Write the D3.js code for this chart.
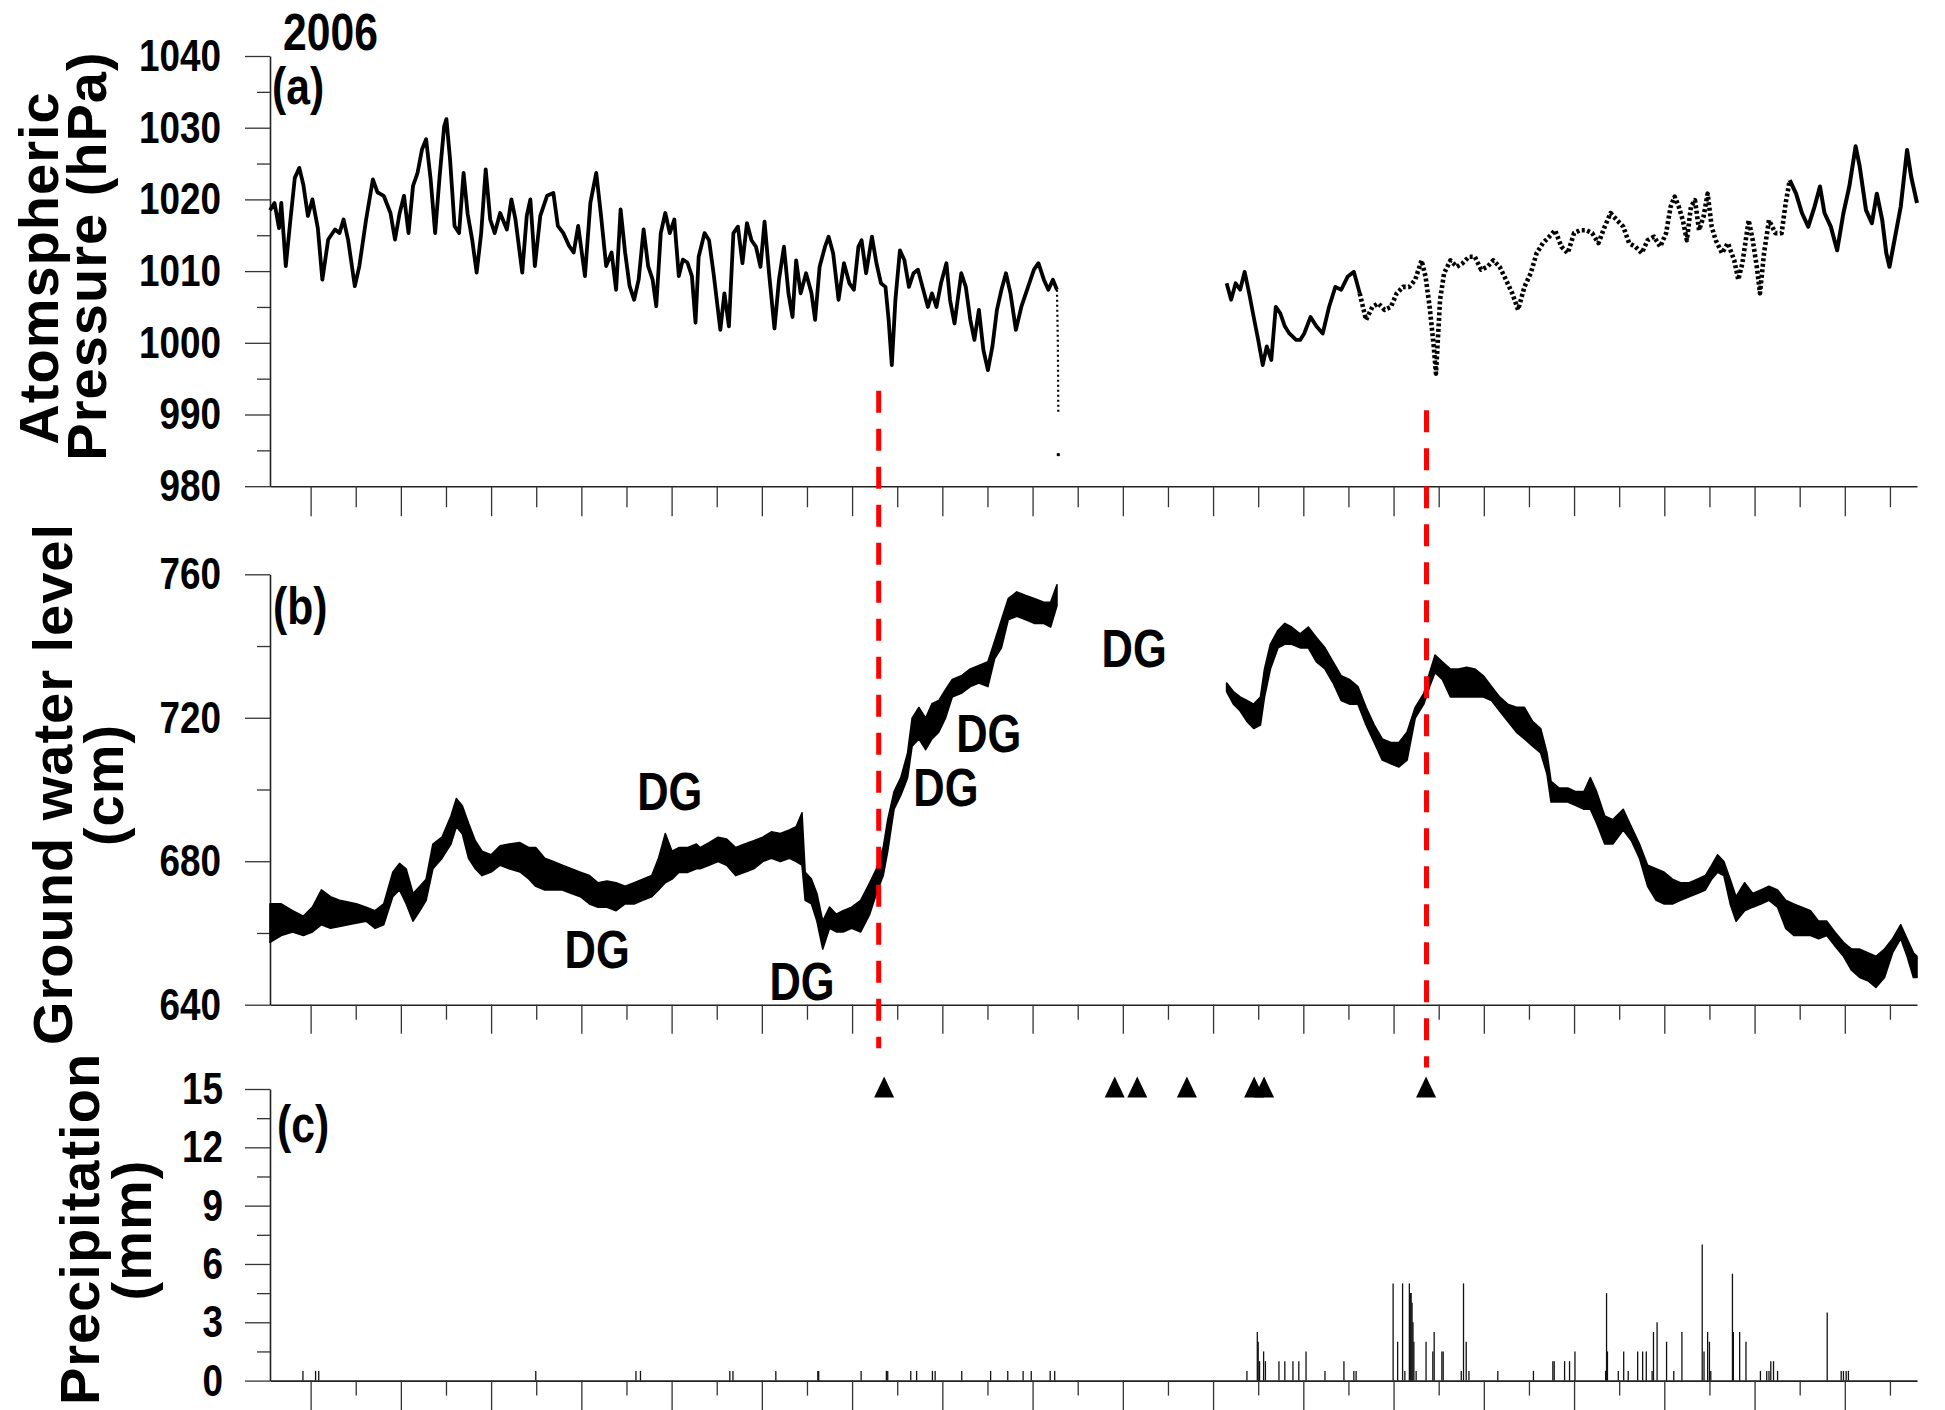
<!DOCTYPE html>
<html><head><meta charset="utf-8">
<script src="https://cdn.jsdelivr.net/npm/d3@7"></script>
<style>
html,body{margin:0;padding:0;background:#fff;}
svg{display:block;}
</style></head>
<body>
<svg id="chart" width="1945" height="1410"></svg>
<script>
// ---------------- DATA ----------------
const dayDomain = [1, 366];                 // day of year 2006
const xTickDays = d3.range(10, 361, 10);    // tick every 10 days
const pressureTicks = [980, 990, 1000, 1010, 1020, 1030, 1040];
const pressureMinor = [985, 995, 1005, 1015, 1025, 1035];
const gwTicks = [640, 680, 720, 760];
const gwMinor = [660, 700, 740];
const precipTicks = [0, 3, 6, 9, 12, 15];
const precipMinor = [1.5, 4.5, 7.5, 10.5, 13.5];

// Atmospheric pressure (hPa), [day, value], first segment
const pressureJanJun = [
[1.0,1018.5],[2.0,1019.5],[3.0,1016],[3.5,1019.5],[4.5,1010.7],[5.5,1017],[6.5,1023],[7.5,1024.4],[8.4,1022],[9.4,1017.7],
[10.4,1020],[11.6,1016],[12.6,1008.8],[13.9,1014.4],[15.4,1015.8],[16.4,1015.3],[17.3,1017.2],[18.3,1014.4],[19.8,1007.9],[20.8,1010.7],
[22.3,1017.2],[23.8,1022.8],[24.8,1021],[26.2,1020.5],[27.7,1018.1],[28.7,1014.4],[29.7,1018],[30.7,1020.5],[31.7,1015.3],[32.7,1021.9],
[33.7,1023.7],[34.7,1027],[35.6,1028.4],[36.6,1022.8],[37.6,1015.3],[38.6,1023.3],[39.6,1030.2],[40.1,1031.2],[40.9,1025.6],[41.9,1016.3],
[42.9,1015.3],[43.9,1023.7],[44.8,1018],[45.8,1014.4],[46.8,1009.8],[47.8,1015.3],[48.8,1024.2],[49.8,1017.2],[50.8,1015.3],[52.0,1018.1],
[53.5,1015.8],[54.5,1020],[55.4,1017.2],[56.9,1009.8],[57.9,1017.7],[58.7,1020],[59.7,1010.7],[60.9,1017.7],[62.4,1020.5],[63.8,1020.9],
[64.8,1016.3],[66.0,1015.3],[67.3,1013.5],[68.3,1012.6],[69.3,1016.3],[70.8,1009.3],[72.0,1019.5],[73.3,1023.7],[74.3,1018.1],[75.5,1010.7],
[76.7,1012.6],[77.7,1007.4],[78.7,1018.6],[79.7,1012.6],[80.7,1007.9],[81.7,1006],[82.7,1008.8],[83.8,1015.8],[84.8,1010.7],[85.8,1008.8],
[86.6,1005.1],[87.6,1015.3],[88.6,1018.1],[89.6,1015.3],[90.6,1017.2],[91.6,1009.3],[92.5,1011.6],[93.5,1011.2],[94.5,1009.3],[95.3,1002.8],
[96.0,1012],[97.3,1015.3],[98.3,1014.3],[99.3,1009.7],[100.8,1001.8],[101.7,1006.9],[102.7,1002.3],[103.7,1015.3],[104.7,1016.2],[105.7,1011.1],
[106.7,1016.7],[107.7,1014.3],[108.7,1013.4],[109.7,1010.6],[110.6,1016.9],[111.6,1009.7],[112.8,1002],[113.8,1008.8],[114.9,1013.4],[115.9,1006.9],
[116.8,1003.6],[117.6,1011.5],[118.6,1006.9],[119.8,1009.7],[121.0,1006.9],[121.8,1003.2],[122.8,1010.6],[124.0,1013.4],[124.8,1014.8],[125.8,1012.5],
[127.0,1006],[128.2,1011.1],[129.4,1008.3],[130.4,1007.4],[131.4,1013.4],[132.1,1014.3],[133.1,1009.7],[134.4,1014.8],[135.4,1011.1],[136.4,1008.3],
[137.4,1007.8],[138.1,1003.2],[138.8,996.9],[139.6,1006],[140.6,1012.9],[141.6,1011.5],[142.6,1007.8],[143.6,1009.7],[144.6,1010.2],[145.6,1007.8],
[146.8,1005],[147.7,1006.9],[148.7,1005],[149.7,1008.3],[150.9,1011.1],[151.7,1006],[152.7,1002.7],[154.2,1009.7],[155.2,1007.8],[156.2,1003.2],
[157.1,1000.4],[158.1,1004.6],[159.1,999],[160.1,996.2],[161.1,999.5],[162.1,1004.6],[163.1,1007.4],[164.1,1009.7],[165.1,1006.9],[166.3,1001.8],
[167.5,1005],[169.0,1007.8],[170.3,1010.2],[171.3,1011.1],[172.5,1008.8],[173.5,1007.4],[174.5,1008.8],[175.4,1007.4]
];
// sparse readings where the logger dropped out
const pressureDrop = [[175.4,1007.4],[175.6,1000],[175.7,990.2]];
const pressureOutlier = [[175.7,984.4]];

// Atmospheric pressure, second segment
const pressureAugDec = [
[213.0,1008.3],[214.0,1006],[215.0,1008.3],[216.0,1007.4],[217.0,1009.9],[218.0,1006.9],[219.0,1003.6],[220.0,1000.4],[221.0,996.9],[221.9,999.5],
[222.9,997.6],[223.9,1005],[224.9,1004.1],[225.9,1002.3],[226.9,1001.3],[228.4,1000.4],[229.3,1000.4],[230.2,1001.3],[231.6,1003.6],[232.9,1002.3],
[234.3,1001.3],[235.7,1005],[237.1,1007.8],[238.4,1007.4],[239.8,1009.2],[241.2,1009.9],[242.5,1006.9],[243.9,1003.2],[245.3,1005],[246.6,1005.5],
[248.0,1004.6],[249.4,1005],[250.7,1006.9],[252.1,1007.8],[253.5,1007.8],[254.8,1008.8],[256.2,1011.5],[257.1,1009.2],[258.0,1005],[258.9,999.5],
[259.4,995.7],[260.3,1006],[261.2,1009.7],[262.6,1011.5],[264.0,1010.6],[265.3,1011.1],[266.7,1012],[268.0,1012],[269.4,1010.2],[270.8,1010.6],
[272.1,1011.5],[273.5,1010.6],[274.9,1008.8],[276.3,1006.9],[277.6,1004.6],[279.0,1007.8],[280.4,1009.7],[281.7,1012.5],[283.1,1013.9],[284.5,1014.8],
[285.8,1015.7],[287.2,1013.4],[288.6,1012.5],[290.0,1015.3],[291.3,1015.7],[292.7,1015.7],[294.0,1015.3],[295.4,1013.9],[296.8,1016.2],[298.1,1018.1],
[299.5,1017.1],[300.9,1016.2],[302.2,1013.9],[303.6,1013.4],[305.0,1012.5],[306.3,1014.3],[307.7,1014.8],[309.1,1013.4],[310.4,1015.3],[311.4,1019],
[312.3,1020.4],[313.2,1019],[314.1,1017.1],[315.0,1014.3],[315.9,1019],[316.8,1019.9],[317.7,1015.7],[318.7,1017.6],[319.6,1020.8],[320.5,1016.2],
[321.4,1014.3],[322.8,1012.5],[324.1,1013.9],[325.5,1011.5],[326.4,1008.8],[327.3,1011.1],[328.7,1017.1],[329.6,1014.3],[330.5,1010.6],[331.2,1006.9],
[332.1,1012.5],[333.2,1017.1],[334.6,1015.3],[336.0,1015.3],[336.9,1019.5],[337.8,1022.7],[339.2,1020.8],[340.5,1018.1],[341.9,1016.2],[343.3,1019],
[344.5,1021.8],[345.5,1018.1],[346.9,1016.2],[348.3,1012.9],[349.7,1018.1],[351.0,1021.8],[352.4,1027.4],[353.3,1024.6],[354.7,1018.5],[356.0,1016.7],
[357.1,1020.8],[358.3,1017.1],[359.2,1012.5],[359.9,1010.6],[361.0,1014.3],[362.4,1019],[363.8,1026.9],[364.7,1023.2],[366.0,1019.5]
];
const pressureDottedSpan = [242.5, 337.8];   // sparsely sampled stretch

// Ground water level (cm): [day, upper envelope, lower envelope]
const groundwaterJanJun = [
[1.0,668.1,657.4],[3.5,668.1,659.3],[6.0,666.2,660.3],[8.4,664.7,659.3],[10.4,667.2,660.3],[12.4,672,662.3],[14.4,670.1,661.3],[16.4,669.1,661.8],
[18.3,668.6,662.3],[20.3,668.1,662.8],[22.3,667.2,663.3],[24.3,666.2,661.3],[26.2,668.1,662.3],[28.2,676.9,670.1],[29.7,679.4,672],[31.2,677.8,668.1],
[32.7,671,663.3],[34.2,673,666.2],[35.6,675,669.1],[37.1,684.8,677.9],[39.1,686.7,680.8],[41.1,692.6,684.8],[42.3,697.5,689.6],[43.6,695.5,687.7],
[45.0,690.6,680.8],[46.5,685.7,677.9],[48.0,682.8,676],[50.0,681.8,677],[52.0,684.3,678.9],[54.0,684.8,677.9],[56.4,685.2,677],[58.4,683.8,675],
[59.9,683.8,673],[61.9,680.8,672],[63.8,679.9,672],[65.8,678.9,672],[67.8,677.9,671],[69.8,676.9,670.1],[71.8,676,668.1],[73.7,674,667.2],
[75.7,674.5,667.2],[77.7,674,666.2],[79.7,673,668.1],[81.7,674,668.1],[83.6,675,669.1],[85.6,676,670.1],[87.1,680.8,672],[88.6,687.7,674],
[90.1,682.8,675],[91.6,683.8,676.9],[93.6,683.8,676.9],[95.5,684.8,677.9],[96.3,683.8,677.9],[98.3,685.2,678.9],[100.3,686.7,679.9],[102.2,686.2,678.9],
[104.2,683.8,676],[106.2,684.8,676.9],[108.2,685.7,677.9],[110.2,686.7,679.9],[112.1,688.2,680.8],[114.1,687.7,679.9],[116.1,688.7,680.8],[117.6,689.6,679.9],
[118.9,693.5,678.9],[119.6,676.9,669.1],[121.0,675,668.1],[122.2,671,663.3],[123.5,663.3,655.5],[125.0,667.2,661.3],[126.5,665.2,660.3],[128.0,666.2,660.3],
[129.9,667.2,661.3],[131.9,669.1,660.3],[133.9,674,665.2],[135.4,677.9,671],[136.9,683.8,676],[137.9,691.6,682.8],[139.3,699.4,694.5],[140.8,703.3,698.4],
[142.3,710.2,703.3],[143.3,719.9,712.1],[144.8,722.9,714.1],[146.3,719.9,711.1],[147.7,723.9,714.1],[149.2,724.8,716],[150.7,727.8,719.9],[152.2,730.7,725.8],
[154.2,731.7,726.8],[156.2,733.6,728.7],[158.1,734.6,729.7],[160.1,735.6,728.7],[161.6,741.4,736.5],[163.1,747.3,739.5],[164.6,753.2,747.3],[166.5,755.1,748.3],
[168.5,754.1,747.3],[170.5,753.2,746.3],[172.5,752.2,746.3],[174.0,752.2,745.3],[175.4,757.1,751.2]
];
const groundwaterAugDec = [
[213.0,729.7,727.3],[214.5,727.3,723.8],[216.0,725.8,721.9],[217.5,724.8,719],[219.0,723.8,717],[220.5,725.8,718],[221.4,733.6,725.8],[222.7,740.5,733.6],
[224.4,744.4,739.5],[225.9,746.3,740.5],[227.4,745.3,740.5],[229.3,743.4,739.5],[231.1,745.3,739.5],[232.9,742.4,735.6],[234.8,739.5,733.6],[236.6,735.6,729.7],
[238.4,731.7,724.8],[240.2,730.7,723.8],[242.1,728.7,723.8],[243.9,722.9,718],[245.7,718,713.1],[247.5,714.1,708.2],[249.4,713.1,707.2],[251.2,713.1,706.3],
[253.0,716,708.2],[254.8,722.9,719.9],[256.7,726.8,723.8],[258.0,732.6,728.7],[259.2,737.5,732.6],[260.8,735.6,730.7],[262.6,733.6,725.8],[264.4,733.6,725.8],
[266.2,734.1,725.8],[268.0,733.6,725.8],[269.9,731.7,725.8],[271.7,728.7,724.8],[273.5,725.8,721.9],[275.3,723.8,719],[277.2,722.9,716],[279.0,722.9,714.1],
[280.8,719,712.1],[282.6,717,710.2],[284.0,710.2,704.3],[284.9,702.3,696.5],[286.7,700.4,696.5],[288.6,700.4,696.5],[290.4,699.4,695.5],[292.2,699.4,694.5],
[293.6,703.3,694.5],[295.0,699.4,690.6],[296.8,692.6,684.8],[298.6,691.6,684.8],[300.9,694.5,688.7],[302.7,689.6,685.7],[304.5,684.8,680.8],[306.3,678.9,673],
[308.2,677.9,669.1],[310.0,676.9,668.1],[311.8,675,668.1],[313.6,674,669.1],[315.5,674,670.1],[317.3,675,671],[319.1,676,672],[320.5,678.9,675],
[321.8,681.8,676.9],[323.2,679.9,676],[324.6,675,668.1],[325.9,670.1,663.3],[327.8,674,666.2],[329.6,671,667.2],[331.4,672,668.1],[333.2,673,669.1],
[335.1,672,667.2],[336.9,669.1,661.3],[338.7,668.1,659.3],[340.5,667.2,659.3],[342.4,666.2,659.3],[344.2,663.3,658.4],[346.0,663.3,659.3],[347.8,660.3,656.4],
[349.7,657.4,653.5],[351.5,655.5,649.6],[353.3,655.5,647.6],[355.1,654.5,646.7],[356.9,653.5,644.8],[358.8,655.5,647.6],[360.6,658.4,654.5],[362.4,662.3,658.4],
[363.8,658.4,653.5],[365.2,654.5,647.6],[366.0,653.5,647.6]
];

// Precipitation (mm): [day, amount]
const precipitation = [
[8.3,0.5],[11.1,0.5],[11.8,0.5],[59.9,0.5],[82.1,0.5],[83.1,0.5],[102.9,0.5],[103.6,0.5],[113.1,0.5],[122.4,0.5],[122.6,0.5],[132.0,0.5],
[137.6,0.5],[137.9,0.5],[143.0,0.5],[144.3,0.5],[147.8,0.5],[148.4,0.5],[154.3,0.5],[160.7,0.5],[164.5,0.5],[167.9,0.5],[169.7,0.5],[173.9,0.5],[174.9,0.5],
[217.5,0.5],[219.8,2.5],[220.0,2.0],[220.3,1.0],[221.2,1.5],[221.6,1.0],[224.6,1.0],[225.9,1.0],[227.7,1.0],[229.0,1.0],[230.6,1.5],[234.8,0.5],
[239.0,1.0],[241.2,0.5],[241.7,0.5],[249.9,5.0],[250.9,2.0],[252.0,5.0],[252.5,0.5],[253.5,5.0],[253.7,4.5],[253.9,4.5],[254.1,4.0],[254.3,3.0],
[254.5,2.0],[255.0,0.5],[257.2,2.0],[258.7,1.5],[259.0,2.5],[260.7,1.5],[261.0,1.5],[265.0,0.5],[265.5,5.0],[266.1,2.0],[266.7,0.5],[273.1,0.5],
[281.0,0.5],[285.3,1.0],[285.6,1.0],[287.9,1.0],[289.0,1.0],[290.2,1.5],[297.0,0.5],[297.2,4.5],[297.4,1.5],[299.8,0.5],[301.0,1.5],[302.0,0.5],
[304.1,1.5],[305.2,1.5],[306.0,1.5],[307.3,0.5],[307.6,2.5],[308.4,3.0],[310.5,2.0],[312.1,0.5],[313.9,2.5],[318.4,7.0],[318.8,1.5],[319.6,2.5],
[320.0,2.0],[320.3,0.5],[325.1,5.5],[325.3,2.5],[326.7,2.5],[328.1,2.0],[331.3,0.5],[332.7,0.5],[333.2,0.5],[333.6,1.0],[334.2,1.0],[335.1,0.5],
[346.1,3.5],[349.2,0.5],[349.7,0.5],[350.3,0.5],[350.8,0.5]
];

// Earthquake markers (triangles) plotted at the 15 mm level
const quakeDays = [137.1, 188.2, 193.2, 204.2, 219.1, 221.3, 257.2];
const quakeLevel = 15;

// Red dashed reference lines: day, top (pressure value), bottom (precip value)
const refLineDays = [135.9, 257.3];
const refLineTopHPa = [993.3, 990.6];
const refLineBottomMM = [17.1, 16.1];

// DG annotations: day, ground water level
const dgDays = [89.6, 73.5, 118.9, 150.8, 160.3, 192.5];
const dgLevels = [699.6, 655.3, 646.6, 700.5, 715.5, 739.2];

// ---------------- DRAWING ----------------
const svg = d3.select("#chart");
const FONT = "'Liberation Sans', Arial, Helvetica, sans-serif";
const NARROW = 0.82;

const x  = d3.scaleLinear().domain(dayDomain).range([270, 1917]);
const yA = d3.scaleLinear().domain([980, 1040]).range([486.2, 56]);
const yB = d3.scaleLinear().domain([640, 760]).range([1004.7, 574.3]);
const yC = d3.scaleLinear().domain([0, 15]).range([1380.6, 1089]);

function styleAxis(g){
  g.selectAll("path.domain").attr("stroke", "#222").attr("stroke-width", 1.6);
  g.selectAll(".tick line").attr("stroke", "#333").attr("stroke-width", 1.3);
}

function yAxis(scale, major, minor, pad){
  const g = svg.append("g").attr("transform", "translate(270,0)");
  g.call(d3.axisLeft(scale).tickValues(major).tickSize(25).tickSizeOuter(0).tickPadding(pad).tickFormat(d3.format("d")));
  g.attr("font-family", FONT).attr("font-size", 45).attr("font-weight", "bold");
  g.selectAll(".tick text").attr("fill", "#000").each(function(){
    const t = d3.select(this);
    const xx = +t.attr("x");
    t.attr("x", 0).attr("transform", `translate(${xx},0) scale(${NARROW},1)`);
  });
  const m = g.append("g").call(d3.axisLeft(scale).tickValues(minor).tickSize(13).tickFormat(""));
  m.select(".domain").remove();
  styleAxis(g);
}

function xAxis(yPos, longLen, shortLen){
  const g = svg.append("g").attr("transform", `translate(0,${yPos})`);
  g.call(d3.axisBottom(x).tickValues(xTickDays.filter(d => d % 20 === 10)).tickSize(longLen).tickSizeOuter(0).tickFormat(""));
  const s = g.append("g").call(d3.axisBottom(x).tickValues(xTickDays.filter(d => d % 20 === 0)).tickSize(shortLen).tickFormat(""));
  s.select(".domain").remove();
  styleAxis(g);
}

xAxis(yA(980), 30, 21);
xAxis(yB(640), 29, 15);
xAxis(yC(0), 30, 15);
yAxis(yA, pressureTicks, pressureMinor, 24);
yAxis(yB, gwTicks, gwMinor, 24);
yAxis(yC, precipTicks, precipMinor, 22);

// ---- Panel (a): pressure
const pLine = d3.line().x(d => x(d[0])).y(d => yA(d[1]));
const gA = svg.append("g").attr("fill", "none").attr("stroke", "#000").attr("stroke-linejoin", "round");
gA.append("path").attr("d", pLine(pressureJanJun)).attr("stroke-width", 3.8);
gA.append("path").attr("d", pLine(pressureDrop)).attr("stroke-width", 2.2).attr("stroke-dasharray", "2,3");
gA.selectAll("rect.outlier").data(pressureOutlier).join("rect")
  .attr("x", d => x(d[0]) - 1.5).attr("y", d => yA(d[1]) - 1.5).attr("width", 3).attr("height", 3)
  .attr("fill", "#000").attr("stroke", "none");
const [ds, de] = pressureDottedSpan;
const segSolid1 = pressureAugDec.filter(d => d[0] <= ds);
const segDotted = pressureAugDec.filter(d => d[0] >= ds && d[0] <= de);
const segSolid2 = pressureAugDec.filter(d => d[0] >= de);
gA.append("path").attr("d", pLine(segSolid1)).attr("stroke-width", 3.8);
gA.append("path").attr("d", pLine(segDotted)).attr("stroke-width", 4.6).attr("stroke-dasharray", "3,2.5");
gA.append("path").attr("d", pLine(segSolid2)).attr("stroke-width", 4);

// ---- Panel (b): ground water band
const gwArea = d3.area().x(d => x(d[0])).y0(d => yB(d[2])).y1(d => yB(d[1]));
const gB = svg.append("g");
[groundwaterJanJun, groundwaterAugDec].forEach(seg => {
  gB.append("path").attr("d", gwArea(seg)).attr("fill", "#000").attr("stroke", "#000").attr("stroke-width", 1.6).attr("stroke-linejoin", "round");
});

// DG labels
svg.append("g").selectAll("text").data(dgDays).join("text")
  .attr("transform", (d, i) => `translate(${x(d)},${yB(dgLevels[i])}) scale(${NARROW},1)`)
  .attr("text-anchor", "middle").attr("dominant-baseline", "central")
  .attr("font-family", FONT).attr("font-weight", "bold").attr("font-size", 53).attr("fill", "#000")
  .text("DG");

// ---- Panel (c): precipitation bars
svg.append("g").selectAll("line").data(precipitation).join("line")
  .attr("x1", d => x(d[0])).attr("x2", d => x(d[0]))
  .attr("y1", yC(0)).attr("y2", d => yC(d[1]))
  .attr("stroke", "#111").attr("stroke-width", 1.3);

// earthquake triangles
svg.append("g").selectAll("path").data(quakeDays).join("path")
  .attr("d", d => {
    const cx = x(d), cy = yC(quakeLevel) - 2;
    return `M${cx - 10},${cy + 10.5}L${cx},${cy - 10.5}L${cx + 10},${cy + 10.5}Z`;
  })
  .attr("fill", "#000");

// red dashed lines
svg.append("g").selectAll("line").data(refLineDays).join("line")
  .attr("x1", d => x(d)).attr("x2", d => x(d))
  .attr("y1", (d, i) => yA(refLineTopHPa[i]))
  .attr("y2", (d, i) => yC(refLineBottomMM[i]))
  .attr("stroke", "#ff0000").attr("stroke-width", 5).attr("stroke-dasharray", "22,16");

// ---- titles & labels
function narrowLabel(txt, px, py, size){
  svg.append("text").attr("transform", `translate(${px},${py}) scale(${NARROW},1)`)
    .attr("font-family", FONT).attr("font-weight", "bold").attr("font-size", size).attr("fill", "#000").text(txt);
}
narrowLabel("2006", 283, 50, 52);
narrowLabel("(a)", 272, 104, 52);
narrowLabel("(b)", 273, 624, 52);
narrowLabel("(c)", 277, 1142, 52);

function yTitle(txt, bx, cy){
  svg.append("text").attr("transform", `translate(${bx},${cy}) rotate(-90)`)
    .attr("text-anchor", "middle").attr("font-family", FONT).attr("font-weight", "bold")
    .attr("font-size", 56).attr("letter-spacing", 1).attr("fill", "#000").text(txt);
}
yTitle("Atomspheric", 58, 268);
yTitle("Pressure (hPa)", 106, 256);
yTitle("Ground water level", 72, 784);
yTitle("(cm)", 123, 785);
yTitle("Precipitation", 99, 1229);
yTitle("(mm)", 151, 1230);
</script>
</body></html>
